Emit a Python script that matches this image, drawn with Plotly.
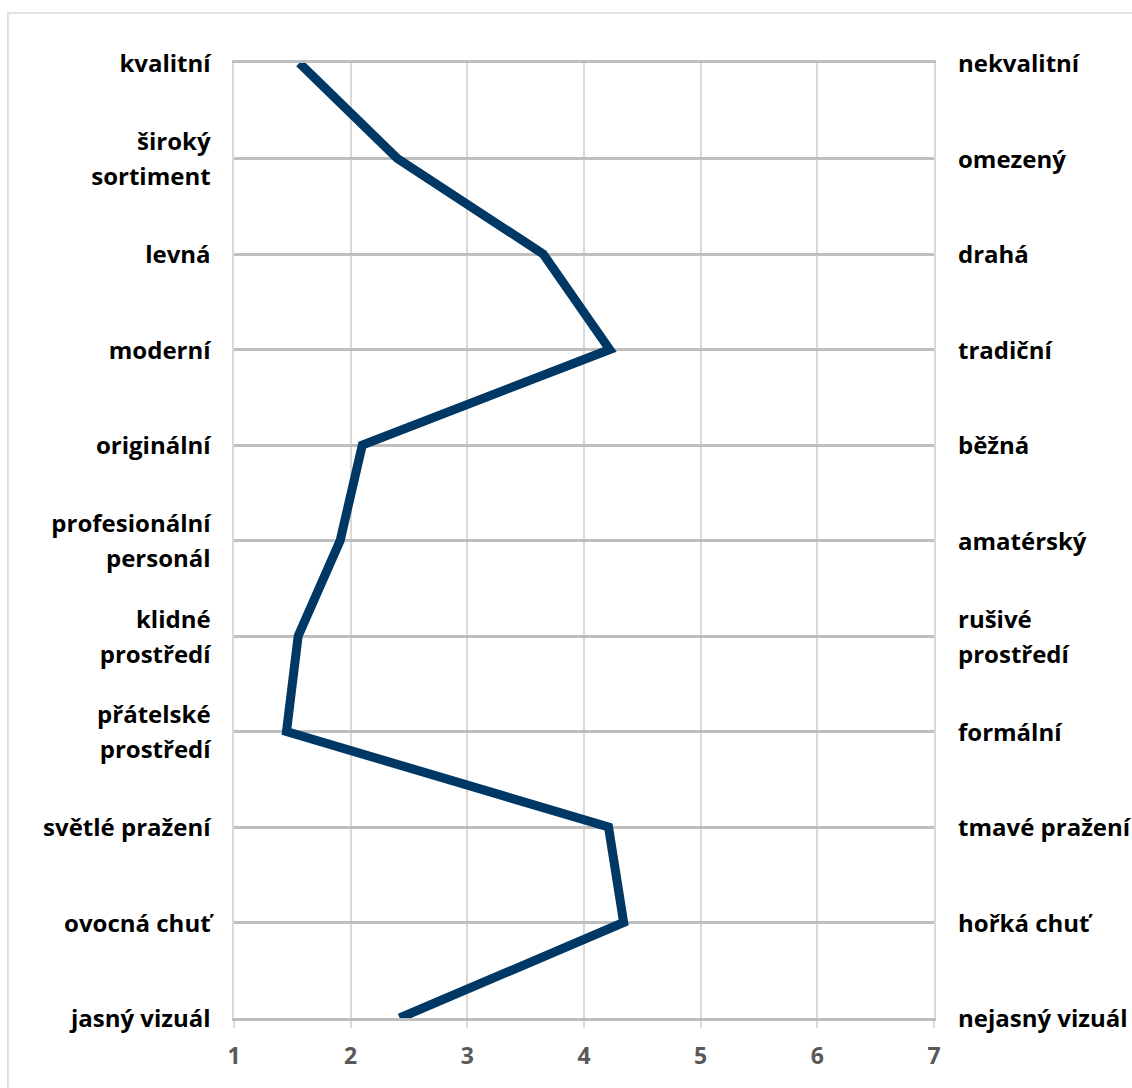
import plotly.graph_objects as go

# Semantic-differential profile: mean rating (1-7) for each pair of opposites
left_labels = [
    "kvalitní", "široký<br>sortiment", "levná", "moderní", "originální",
    "profesionální<br>personál", "klidné<br>prostředí", "přátelské<br>prostředí",
    "světlé pražení", "ovocná chuť", "jasný vizuál",
]
right_labels = [
    "nekvalitní", "omezený", "drahá", "tradiční", "běžná", "amatérský",
    "rušivé<br>prostředí", "formální", "tmavé pražení", "hořká chuť", "nejasný vizuál",
]
scores = [1.56, 2.40, 3.65, 4.22, 2.10, 1.91, 1.55, 1.45, 4.21, 4.34, 2.42]
scale_ticks = [1, 2, 3, 4, 5, 6, 7]

rows = list(range(len(scores)))

FONT = "Open Sans"
LABEL_PX = 24
LINE_BASE = 27  # base size sets the spacing between wrapped label lines


def styled(txt):
    return f'<span style="font-size:{LABEL_PX}px">{txt}</span>'


fig = go.Figure()
fig.add_trace(go.Scatter(
    x=scores, y=rows, mode="lines",
    line=dict(color="#003865", width=9),
    hoverinfo="x+y", showlegend=False,
))
# mirror trace so the right-hand axis is rendered
fig.add_trace(go.Scatter(
    x=scores, y=rows, mode="lines", yaxis="y2",
    line=dict(color="rgba(0,0,0,0)", width=0),
    hoverinfo="skip", showlegend=False,
))

fig.update_layout(
    width=1132, height=1088,
    margin=dict(l=234, r=198, t=63, b=70, autoexpand=False),
    paper_bgcolor="white", plot_bgcolor="white",
    font=dict(family=FONT),
    xaxis=dict(
        range=[1, 7], tickvals=scale_ticks, ticktext=[str(t) for t in scale_ticks],
        showgrid=True, gridcolor="#d9d9d9", gridwidth=2,
        zeroline=False, automargin=False,
        showline=True, mirror=True, linecolor="#bfbfbf", linewidth=2.5,
        ticks="outside", ticklen=7, tickcolor="#d9d9d9", tickwidth=2,
        tickfont=dict(family=FONT, size=23, color="#595959", weight="bold"),
        ticklabelstandoff=9,
        layer="below traces",
    ),
    yaxis=dict(
        range=[10, 0], tickvals=rows, ticktext=[styled(t) for t in left_labels],
        showgrid=True, gridcolor="#bfbfbf", gridwidth=2.5,
        zeroline=False, showline=True, mirror=True,
        linecolor="#d9d9d9", linewidth=2,
        ticks="", ticklabelstandoff=16, automargin=False,
        tickfont=dict(family=FONT, size=LINE_BASE, color="black", weight="bold"),
        layer="below traces",
    ),
    yaxis2=dict(
        range=[10, 0], tickvals=rows, ticktext=[styled(t) for t in right_labels],
        overlaying="y", side="right", anchor="x",
        showgrid=False, zeroline=False, showline=False, automargin=False,
        ticks="", ticklabelstandoff=23,
        tickfont=dict(family=FONT, size=LINE_BASE, color="black", weight="bold"),
    ),
    shapes=[dict(
        type="rect", xref="paper", yref="paper",
        x0=-0.323, x1=1.30, y0=-0.09, y1=1.0524,
        line=dict(color="#d9d9d9", width=1.5), fillcolor="rgba(0,0,0,0)",
        layer="below",
    )],
)

fig.write_html("out.html")
